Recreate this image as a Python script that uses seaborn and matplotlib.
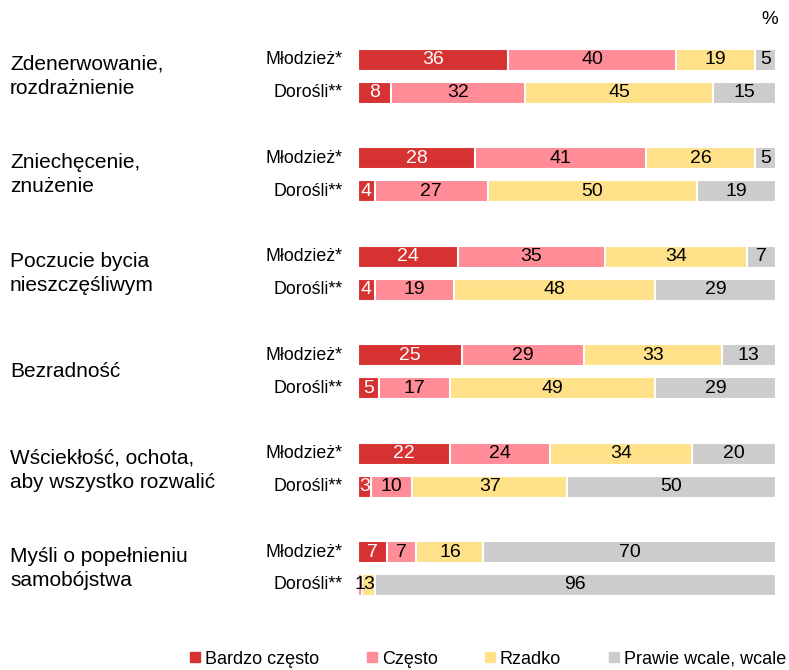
import seaborn as sns
import matplotlib.pyplot as plt
import matplotlib.transforms as mtrans
from matplotlib.lines import Line2D
import numpy as np
import pandas as pd

# data (percent)
topics = ["Zdenerwowanie,\nrozdrażnienie", "Zniechęcenie,\nznużenie",
          "Poczucie bycia\nnieszczęśliwym", "Bezradność",
          "Wściekłość, ochota,\naby wszystko rozwalić",
          "Myśli o popełnieniu\nsamobójstwa"]
groups = ["Młodzież*", "Dorośli**"]
answers = ["Bardzo często", "Często", "Rzadko", "Prawie wcale, wcale"]

youth_vals = [[36, 40, 19, 5], [28, 41, 26, 5], [24, 35, 34, 7],
              [25, 29, 33, 13], [22, 24, 34, 20], [7, 7, 16, 70]]
adult_vals = [[8, 32, 45, 15], [4, 27, 50, 19], [4, 19, 48, 29],
              [5, 17, 49, 29], [3, 10, 37, 50], [0, 1, 3, 96]]

colors = ["#D73232", "#FF8C96", "#FFE18A", "#CCCCCC"]

sns.set_style("white")
plt.rcParams['font.family'] = ['Liberation Sans', 'DejaVu Sans']
plt.rcParams['text.color'] = 'black'

# long table with cumulative ends, bars overlaid so they look stacked
rows = []
for t in range(len(topics)):
    for g, vals in enumerate([youth_vals[t], adult_vals[t]]):
        pos = 3 * t + g
        cum = np.cumsum(vals)
        for a, ans in enumerate(answers):
            rows.append({"pos": pos, "answer": ans, "end": cum[a],
                         "value": vals[a], "start": cum[a] - vals[a]})
df = pd.DataFrame(rows)

fig = plt.figure(figsize=(7.89, 6.70), dpi=100)
ax = fig.add_axes([0.4537, 0.0975, 0.5298, 0.8424])

sns.barplot(data=df, x="end", y="pos", hue="answer", hue_order=answers[::-1],
            palette=dict(zip(answers, colors)), orient="h", native_scale=True,
            dodge=False, width=0.67, saturation=1, edgecolor="white",
            linewidth=1.5, legend=False, ax=ax)

ax.set_xlim(0, 100)
ax.set_ylim(16.6, -0.6)
ax.set_xlabel("")
ax.set_ylabel("")
ax.set_xticks([])
ax.set_yticks([])
sns.despine(ax=ax, left=True, bottom=True)

# segment labels
for _, r in df.iterrows():
    if r["value"] <= 0:
        continue
    col = "white" if r["answer"] == answers[0] else "black"
    ax.text(r["start"] + r["value"] / 2, r["pos"], str(int(r["value"])),
            ha="center", va="center", fontsize=14, color=col)

# row labels and topic labels
blend = mtrans.blended_transform_factory(fig.transFigure, ax.transData)
for t, name in enumerate(topics):
    for g, gname in enumerate(groups):
        ax.text(-3.6, 3 * t + g, gname, ha="right", va="center", fontsize=12.8)
    ax.text(10 / 789, 3 * t + 0.5, name, ha="left", va="center", fontsize=15,
            linespacing=1.32, transform=blend)

fig.text(770 / 789, 1 - 20 / 670, "%", ha="center", va="center", fontsize=13.5)

handles = [Line2D([], [], marker="s", linestyle="", markersize=7,
                  markerfacecolor=c, markeredgecolor=c) for c in colors]
fig.legend(handles, answers, ncol=4, loc="center", frameon=False,
           bbox_to_anchor=(487 / 789, 1 - 659 / 670), fontsize=13,
           handletextpad=0.15, columnspacing=2.5, handlelength=0.8)

fig.savefig("out.png", dpi=100)
